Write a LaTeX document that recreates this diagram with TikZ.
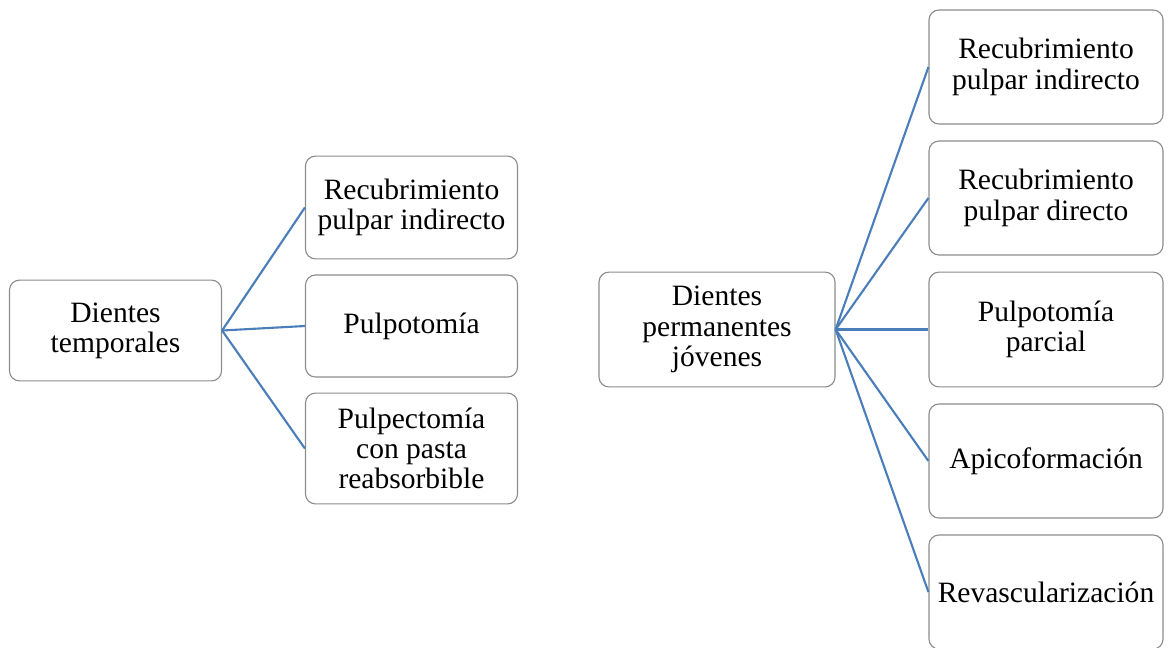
\documentclass[tikz,border=0pt]{standalone}
\usepackage{fontspec}
\setmainfont{Liberation Serif}
\usetikzlibrary{
  calc, % For coordinate calculations
  positioning % For relative placement
}
\definecolor{boxgray}{HTML}{8C8C8C}
\definecolor{linkblue}{HTML}{4A7EBB}

\begin{document}
\begin{tikzpicture}[
      x=0.025cm, y=-0.025cm, % one unit = one pixel of the layout
      box/.style={draw=boxgray, line width=0.8pt, rounded corners=0.25cm,
        align=center, inner sep=0pt,
        font=\fontsize{21}{21.5}\selectfont},
      link/.style={linkblue, line width=1.5pt}, % Style for connectors
    ]

    % Rahmen
    \useasboundingbox (0,0) rectangle (1168,647);

    % Größen
    \def\wl{5.3cm}
    \def\wr{5.85cm}

    % Koordinaten der Mittelpunkte
    \coordinate (T) at (115.5,330.5);
    \coordinate (P) at (717,329.5);

    % Dientes temporales
    \node[box, minimum width=\wl, minimum height=2.52cm] (temp) at (T)
      {Dientes\\temporales};
    \node[box, minimum width=\wl, minimum height=2.57cm] (tA) at (411.5,207.5)
      {Recubrimiento\\pulpar indirecto};
    \node[box, minimum width=\wl, minimum height=2.55cm] (tB) at (411.5,326)
      {Pulpotomía};
    \node[box, minimum width=\wl, minimum height=2.77cm] (tC) at (411.5,448.5)
      {Pulpectomía\\con pasta\\reabsorbible};

    % Dientes permanentes jóvenes
    \node[box, minimum width=5.9cm, minimum height=2.87cm] (perm) at (P)
      {Dientes\\permanentes\\jóvenes};
    \node[box, minimum width=\wr, minimum height=2.85cm] (pA) at (1046,67)
      {Recubrimiento\\pulpar indirecto};
    \node[box, minimum width=\wr, minimum height=2.85cm] (pB) at (1046,198)
      {Recubrimiento\\pulpar directo};
    \node[box, minimum width=\wr, minimum height=2.87cm] (pC) at (1046,329.5)
      {Pulpotomía\\parcial};
    \node[box, minimum width=\wr, minimum height=2.85cm] (pD) at (1046,461)
      {Apicoformación};
    \node[box, minimum width=\wr, minimum height=2.85cm] (pE) at (1046,592)
      {Revascularización};

    % Verbindungen
    \foreach \j in {tA, tB, tC}
    \draw[link] (temp.east) -- (\j.west);
    \foreach \j in {pA, pB, pC, pD, pE}
    \draw[link] (perm.east) -- (\j.west);
  \end{tikzpicture}
\end{document}
